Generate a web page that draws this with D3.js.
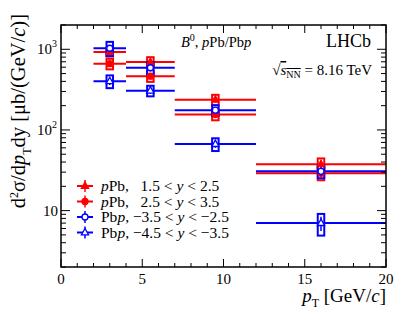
<!DOCTYPE html>
<html><head><meta charset="utf-8">
<script src="https://cdn.jsdelivr.net/npm/d3@7"></script>
<style>body{margin:0;background:#fff}svg{display:block}text{font-family:"Liberation Serif","DejaVu Serif",serif}</style>
</head><body><svg id="c" width="407" height="322"></svg>
<script>
const binEdges = [2, 4, 7, 12, 20];
const binCenters = [3, 5.5, 9.5, 16];
const pPbFwd = [925, 694, 237, 37.6];       // pPb 1.5<y<2.5
const pPbFwd2 = [663, 464, 155, 29.0];      // pPb 2.5<y<3.5
const Pbp1 = [1030, 590, 176, 30.7];        // Pbp -3.5<y<-2.5
const Pbp2 = [402, 307, 66.8, 7.0];         // Pbp -4.5<y<-3.5
const syst_pPbFwd = [0.12, 0.15, 0.15, 0.18];
const syst_pPbFwd2 = [0.15, 0.15, 0.15, 0.18];
const syst_Pbp1 = [0.2, 0.18, 0.15, 0.18];
const syst_Pbp2 = [0.18, 0.15, 0.18, 0.3];
const stat_pPbFwd = [0.07, 0.08, 0.08, 0.12];
const stat_pPbFwd2 = [0.08, 0.08, 0.08, 0.12];
const stat_Pbp1 = [0.1, 0.1, 0.08, 0.12];
const stat_Pbp2 = [0.1, 0.08, 0.1, 0.2];
const xTicks = [0, 5, 10, 15, 20];
const yTickLabels = [{v:10, t:"10", e:""}, {v:100, t:"10", e:"2"}, {v:1000, t:"10", e:"3"}];

const RED = "#ff0000", BLUE = "#0000ff";
const series = [
  {name:"pPbFwd", vals:pPbFwd, syst:syst_pPbFwd, stat:stat_pPbFwd, color:RED, marker:"triangle", filled:true},
  {name:"pPbFwd2", vals:pPbFwd2, syst:syst_pPbFwd2, stat:stat_pPbFwd2, color:RED, marker:"circle", filled:true},
  {name:"Pbp1", vals:Pbp1, syst:syst_Pbp1, stat:stat_Pbp1, color:BLUE, marker:"circle", filled:false},
  {name:"Pbp2", vals:Pbp2, syst:syst_Pbp2, stat:stat_Pbp2, color:BLUE, marker:"triangle", filled:false}
];

const svg = d3.select("#c");
const L = 61, R = 386, T = 25, B = 267;
const x = d3.scaleLinear().domain([0, 20]).range([L, R]);
const y = d3.scaleLog().domain([2, 2000]).range([B, T]);

const g = svg.append("g");
const boxHalf = 0.2;

function marker(sel, type, filled, color, cx, cy) {
  if (type === "circle") {
    sel.append("circle").attr("cx", cx).attr("cy", cy).attr("r", 3)
      .attr("fill", filled ? color : "#fff").attr("stroke", color).attr("stroke-width", 1.3);
  } else {
    const s = 4;
    sel.append("path").attr("d", `M${cx},${cy - s} L${cx + s * 0.9},${cy + s * 0.6} L${cx - s * 0.9},${cy + s * 0.6} Z`)
      .attr("fill", filled ? color : "#fff").attr("stroke", color).attr("stroke-width", 1.3);
  }
}

series.forEach(s => {
  const sg = g.append("g");
  s.vals.forEach((v, i) => {
    sg.append("line").attr("x1", x(binEdges[i])).attr("x2", x(binEdges[i + 1]))
      .attr("y1", y(v)).attr("y2", y(v)).attr("stroke", s.color).attr("stroke-width", 2);
  });
});
series.forEach(s => {
  const sg = g.append("g");
  s.vals.forEach((v, i) => {
    const c = binCenters[i];
    const e = v * s.syst[i];
    sg.append("rect").attr("x", x(c - boxHalf)).attr("width", x(c + boxHalf) - x(c - boxHalf))
      .attr("y", y(v + e)).attr("height", y(v - e) - y(v + e))
      .attr("fill", "#fff").attr("stroke", s.color).attr("stroke-width", 2);
  });
});
series.forEach(s => {
  const sg = g.append("g");
  s.vals.forEach((v, i) => {
    const c = binCenters[i];
    const e = v * s.stat[i];
    sg.append("line").attr("x1", x(c)).attr("x2", x(c)).attr("y1", y(v + e)).attr("y2", y(v - e))
      .attr("stroke", s.color).attr("stroke-width", 1.5);
    marker(sg, s.marker, s.filled, s.color, x(c), y(v));
  });
});

svg.append("rect").attr("x", L).attr("y", T).attr("width", R - L).attr("height", B - T)
  .attr("fill", "none").attr("stroke", "#000").attr("stroke-width", 1.5);

d3.range(0, 21, 1).forEach(v => {
  const len = v % 5 === 0 ? 8 : 4;
  svg.append("line").attr("x1", x(v)).attr("x2", x(v)).attr("y1", B).attr("y2", B - len).attr("stroke", "#000").attr("stroke-width", 1);
  svg.append("line").attr("x1", x(v)).attr("x2", x(v)).attr("y1", T).attr("y2", T + len).attr("stroke", "#000").attr("stroke-width", 1);
});
xTicks.forEach(v => {
  svg.append("text").attr("x", x(v)).attr("y", 284).attr("text-anchor", "middle")
    .attr("font-size", 15).text(v);
});

const yMinor = [];
[1, 10, 100, 1000].forEach(d => { for (let k = 1; k <= 9; k++) { const v = d * k; if (v >= 2 && v <= 2000) yMinor.push(v); } });
yMinor.forEach(v => {
  const len = [10, 100, 1000].includes(v) ? 9 : 5;
  svg.append("line").attr("x1", L).attr("x2", L + len).attr("y1", y(v)).attr("y2", y(v)).attr("stroke", "#000").attr("stroke-width", 1);
  svg.append("line").attr("x1", R).attr("x2", R - len).attr("y1", y(v)).attr("y2", y(v)).attr("stroke", "#000").attr("stroke-width", 1);
});
yTickLabels.forEach(d => {
  svg.append("text").attr("x", d.e ? 52 : 58).attr("y", y(d.v) + 5).attr("text-anchor", "end").attr("font-size", 15).text(d.t);
  if (d.e) svg.append("text").attr("x", 52).attr("y", y(d.v) - 2).attr("font-size", 10).text(d.e);
});

const xt = svg.append("text").attr("x", R).attr("y", 302).attr("text-anchor", "end").attr("font-size", 19);
xt.append("tspan").attr("font-style", "italic").text("p");
xt.append("tspan").attr("font-size", 12).attr("dy", 5).text("T");
xt.append("tspan").attr("dy", -5).text(" [GeV/");
xt.append("tspan").attr("font-style", "italic").text("c");
xt.append("tspan").text("]");

const yt = svg.append("text").attr("transform", "translate(25,14) rotate(-90)").attr("text-anchor", "end").attr("font-size", 20.5);
yt.append("tspan").text("d");
yt.append("tspan").attr("font-size", 12).attr("dy", -7).text("2");
yt.append("tspan").attr("dy", 7).text("σ/d");
yt.append("tspan").attr("font-style", "italic").text("p");
yt.append("tspan").attr("font-size", 12).attr("dy", 6).text("T");
yt.append("tspan").attr("dy", -6).text("dy [μb/(GeV/");
yt.append("tspan").attr("font-style", "italic").text("c");
yt.append("tspan").text(")]");

const a1 = svg.append("text").attr("x", 181).attr("y", 47).attr("font-size", 14.5);
a1.append("tspan").attr("font-style", "italic").text("B");
a1.append("tspan").attr("font-size", 10).attr("dy", -6).text("0");
a1.append("tspan").attr("dy", 6).text(", ");
a1.append("tspan").attr("font-style", "italic").text("p");
a1.append("tspan").text("Pb/Pb");
a1.append("tspan").attr("font-style", "italic").text("p");

svg.append("text").attr("x", 371).attr("y", 47).attr("text-anchor", "end").attr("font-size", 18).text("LHCb");

const a2 = svg.append("text").attr("x", 372).attr("y", 75).attr("text-anchor", "end").attr("font-size", 15);
a2.append("tspan").text("√");
a2.append("tspan").attr("font-style", "italic").attr("text-decoration", "overline").text("s");
a2.append("tspan").attr("font-size", 10).attr("dy", 3).attr("text-decoration", "overline").text("NN");
a2.append("tspan").attr("dy", -3).text(" = 8.16 TeV");

const legendLabels = [
  [["p", true], ["Pb,   1.5 < ", false], ["y", true], [" < 2.5", false]],
  [["p", true], ["Pb,   2.5 < ", false], ["y", true], [" < 3.5", false]],
  [["Pb", false], ["p", true], [", \u22123.5 < ", false], ["y", true], [" < \u22122.5", false]],
  [["Pb", false], ["p", true], [", \u22124.5 < ", false], ["y", true], [" < \u22123.5", false]]
];
const legY = [186, 201.5, 217, 232.5];
series.forEach((s, i) => {
  const ly = legY[i];
  svg.append("line").attr("x1", 77).attr("x2", 93).attr("y1", ly).attr("y2", ly).attr("stroke", s.color).attr("stroke-width", 2);
  svg.append("line").attr("x1", 85).attr("x2", 85).attr("y1", ly - 6).attr("y2", ly + 6).attr("stroke", s.color).attr("stroke-width", 1.5);
  marker(svg, s.marker, s.filled, s.color, 85, ly);
  const t = svg.append("text").attr("x", 101).attr("y", ly + 5).attr("font-size", 15.5).style("white-space", "pre");
  legendLabels[i].forEach(([txt, it]) => {
    const sp = t.append("tspan").text(txt);
    if (it) sp.attr("font-style", "italic");
  });
});
</script></body></html>
